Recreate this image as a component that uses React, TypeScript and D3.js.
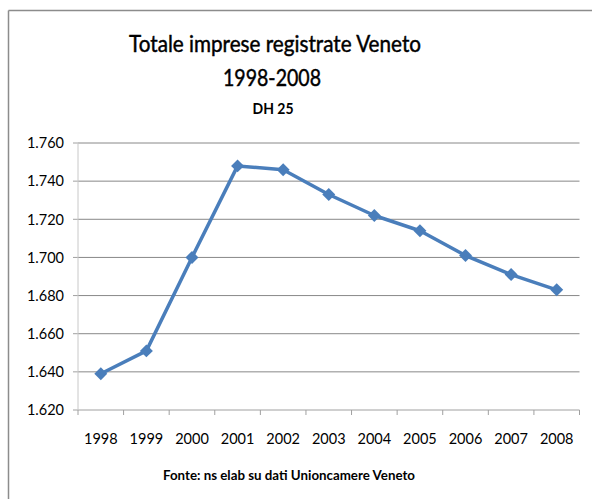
import React from "react";
import * as d3 from "d3";

const years = ["1998", "1999", "2000", "2001", "2002", "2003", "2004", "2005", "2006", "2007", "2008"];
const imprese = [1639, 1651, 1700, 1748, 1746, 1733, 1722, 1714, 1701, 1691, 1683];
const yTicks = [1620, 1640, 1660, 1680, 1700, 1720, 1740, 1760];

const W = 592, H = 499;
const margin = { top: 143, right: 12.5, bottom: 89, left: 78 };
const font = "Lato, 'Open Sans', sans-serif";

export default function App() {
  const width = W - margin.left - margin.right;
  const height = H - margin.top - margin.bottom;

  const x = d3.scaleBand().domain(years).range([0, width]);
  const y = d3.scaleLinear().domain([1620, 1760]).range([height, 0]);

  const fmt = (v: number) => d3.format(".3f")(v / 1000);
  const cx = (i: number) => x(years[i])! + x.bandwidth() / 2;

  const line = d3
    .line<number>()
    .x((d, i) => cx(i))
    .y((d) => y(d));

  // rotated square, like Excel's diamond marker
  const diamond = d3.symbol().type(d3.symbolSquare).size(84)();

  return (
    <svg width={W} height={H} style={{ position: "absolute", left: 0, top: 0, background: "#fff" }}>
      {/* frame of the chart (cropped) */}
      <line x1={8.5} x2={W} y1={10.5} y2={10.5} stroke="#8c8c8c" strokeWidth={1.5} />
      <line x1={8.5} x2={8.5} y1={10.5} y2={H} stroke="#8c8c8c" strokeWidth={1.5} />

      <g fontFamily={font} fill="#000" stroke="#000" strokeWidth={0.45} textAnchor="middle">
        <text x={275} y={52} fontSize={22.5} textLength={292} lengthAdjust="spacingAndGlyphs">
          Totale imprese registrate Veneto
        </text>
        <text x={272} y={86} fontSize={22.5} textLength={98} lengthAdjust="spacingAndGlyphs">
          1998-2008
        </text>
      </g>
      <text x={273} y={114} textAnchor="middle" fontFamily={font} fontSize={16} fontWeight="bold" fill="#000"
        textLength={41} lengthAdjust="spacingAndGlyphs">
        DH 25
      </text>

      <g transform={`translate(${margin.left},${margin.top})`}>
        {yTicks.map((t) => (
          <g key={t}>
            <line x1={0} x2={width} y1={y(t)} y2={y(t)} stroke={t === 1620 ? "#a0a0a0" : "#888"} strokeWidth={1} />
            <line x1={-5} x2={0} y1={y(t)} y2={y(t)} stroke="#a0a0a0" />
            <text x={-14} y={y(t)} dy="0.36em" textAnchor="end" fontFamily={font} fontSize={14.5} fill="#000">
              {fmt(t)}
            </text>
          </g>
        ))}
        <line x1={0} x2={0} y1={0} y2={height} stroke="#c8c8c8" />
        {years.map((yr) => (
          <line key={"t" + yr} x1={x(yr)!} x2={x(yr)!} y1={height} y2={height + 5} stroke="#a0a0a0" />
        ))}
        <line x1={width} x2={width} y1={height} y2={height + 5} stroke="#a0a0a0" />
        {years.map((yr, i) => (
          <text key={yr} x={cx(i)} y={height + 34} textAnchor="middle" fontFamily={font} fontSize={14.5} fill="#000">
            {yr}
          </text>
        ))}

        <path d={line(imprese)!} fill="none" stroke="#4a7ebb" strokeWidth={3.5} strokeLinejoin="round" />
        {imprese.map((v, i) => (
          <path
            key={i}
            d={diamond!}
            transform={`translate(${cx(i)},${y(v)}) rotate(45)`}
            fill="#4a7ebb"
          />
        ))}
      </g>

      <text x={289} y={480} textAnchor="middle" fontFamily={font} fontSize={14} fontWeight="bold" fill="#000"
        textLength={252} lengthAdjust="spacingAndGlyphs">
        Fonte: ns elab su dati Unioncamere Veneto
      </text>
    </svg>
  );
}
